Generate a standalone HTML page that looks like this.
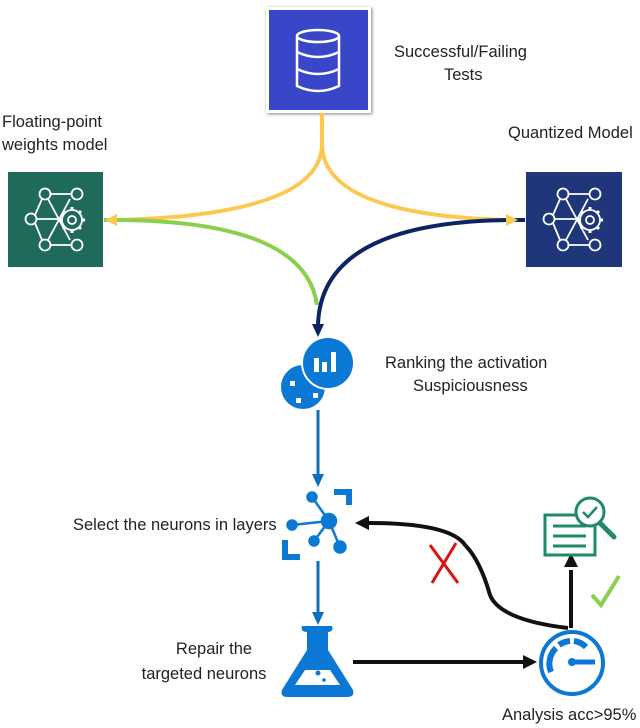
<!DOCTYPE html>
<html><head><style>body{margin:0;background:#fff}svg{display:block}text{font-family:"Liberation Sans",sans-serif;font-size:16.5px;fill:#222}</style></head><body>
<svg width="640" height="728" viewBox="0 0 640 728">
<defs>
<filter id="sh"><feDropShadow dx="1" dy="1" stdDeviation="1.5" flood-opacity="0.5"/></filter>
</defs>
<rect x="266" y="7" width="105" height="106" fill="#fff" filter="url(#sh)"/>
<rect x="269" y="10" width="99" height="100" fill="#3a46c8"/>
<g fill="none" stroke="#fff" stroke-width="2.5">
<ellipse cx="318" cy="36" rx="21" ry="6"/>
<path d="M297 36 V86 Q318 96 339 86 V36"/>
<path d="M297 52 Q318 62 339 52 M297 69 Q318 79 339 69"/>
</g>
<text x="394" y="57">Successful/Failing</text>
<text x="444" y="80">Tests</text>
<rect x="8" y="172" width="95" height="95" fill="#1f6a5b"/>
<rect x="526" y="172" width="96" height="95" fill="#1f377a"/>
<g id="nn" fill="none" stroke="#fff" stroke-width="1.8">
<circle cx="45" cy="194" r="5.5"/><circle cx="77" cy="194" r="5.5"/><circle cx="31" cy="219" r="5.5"/><circle cx="45" cy="245" r="5.5"/><circle cx="77" cy="245" r="5.5"/>
<path d="M51 194H71M51 245H71M37 219H58M35 215L42 199M35 223L42 240M48 199L70 240M48 240L70 199"/>
<circle cx="72" cy="220" r="10"/><circle cx="72" cy="220" r="4"/>
<path d="M72 207V210M72 230V233M59 220H62M82 220H85M63 211L65 213M81 211L79 213M63 229L65 227M81 229L79 227" stroke-width="3"/>
</g>
<use href="#nn" x="518"/>
<text x="2" y="127">Floating-point</text>
<text x="2" y="150">weights model</text>
<text x="508" y="138">Quantized Model</text>
<g fill="none" stroke-width="4">
<path d="M322 113 V145 Q320 215 115 220" stroke="#fdc84f"/>
<path d="M322 113 V145 Q324 215 508 220" stroke="#fdc84f"/>
<path d="M104 220 Q305 218 317 305" stroke="#8bcf4f"/>
<path d="M525 220 Q321 218 318 325" stroke="#0d2464"/>
</g>
<path d="M105 220 L117 214 L117 226Z" fill="#fdc84f"/>
<path d="M518 220 L506 214 L506 226Z" fill="#fdc84f"/>
<path d="M318 337 L312 324 L324 324Z" fill="#0d2464"/>
<circle cx="303" cy="387" r="22" fill="#0a78d4"/>
<circle cx="328" cy="363" r="27" fill="#fff"/>
<circle cx="328" cy="363" r="25" fill="#0a78d4"/>
<rect x="314" y="358" width="5" height="14" fill="#fff"/><rect x="322" y="362" width="5" height="10" fill="#fff"/><rect x="331" y="352" width="5" height="20" fill="#fff"/>
<rect x="290" y="381" width="5" height="5" fill="#fff"/><rect x="296" y="398" width="5" height="5" fill="#fff"/><rect x="313" y="393" width="5" height="5" fill="#fff"/>
<text x="385" y="368">Ranking the activation</text>
<text x="413" y="391">Suspiciousness</text>
<g stroke="#0a6fc2" stroke-width="3"><path d="M318 410V475M318 561V612"/></g>
<path d="M318 487L312 474H324Z M318 625L312 612H324Z" fill="#0a6fc2"/>
<g fill="#0a78d4" stroke="#0a78d4" stroke-width="2.5">
<path d="M329 521L312 497M329 521L292 525M329 521L314 541M329 521L340 547" fill="none"/>
<circle cx="329" cy="521" r="7"/><circle cx="312" cy="497" r="4.5"/><circle cx="292" cy="525" r="4.5"/><circle cx="314" cy="541" r="4.5"/><circle cx="340" cy="547" r="5.5"/>
</g>
<path d="M334 489H352V505H346V495H334Z M282 540H288V554H300V560H282Z" fill="#0a78d4"/>
<text x="73" y="530">Select the neurons in layers</text>
<path d="M302 626H332Q334 632 328 632V650L353 690Q355 697 347 697H287Q280 697 282 690L307 650V632Q300 632 302 626Z" fill="#0a78d4"/>
<path d="M295 685L305 670H330L340 685Z" fill="#fff"/>
<circle cx="318" cy="673" r="2.5" fill="#0a78d4"/><circle cx="324" cy="680" r="1.8" fill="#0a78d4"/>
<text x="214" y="654" text-anchor="middle">Repair the</text>
<text x="204" y="679" text-anchor="middle">targeted neurons</text>
<g stroke="#111" stroke-width="4" fill="none">
<path d="M353 662H525"/>
<path d="M571 628V570"/>
<path d="M568 628Q500 620 490 595Q480 560 465 545Q450 523 368 523"/>
</g>
<path d="M537 662L523 655V669Z M571 553L564 567H578Z M355 523L369 516V530Z" fill="#111"/>
<circle cx="572" cy="663" r="31" fill="#fff" stroke="#0a78d4" stroke-width="4"/>
<g fill="none" stroke="#0a78d4" stroke-width="6">
<path d="M551 672A22 22 0 0 1 556 648M559 645A22 22 0 0 1 570 641M574 641A22 22 0 0 1 586 647"/>
</g>
<path d="M572 662H595" stroke="#0a78d4" stroke-width="5"/><circle cx="572" cy="662" r="4" fill="#0a78d4"/>
<text x="502" y="720">Analysis acc&gt;95%</text>
<g fill="none" stroke="#1f8a6b" stroke-width="3">
<rect x="545" y="515" width="50" height="40" fill="#fff"/>
<path d="M553 526H586M553 536H586M553 546H586"/>
<circle cx="590" cy="512" r="14" fill="#fff"/>
<path d="M583 512L588 517L597 507" stroke-width="2.5"/>
<path d="M600 523L614 537" stroke-width="5" stroke-linecap="round"/>
</g>
<path d="M430 545L458 583M456 543L432 583" stroke="#e01010" stroke-width="3"/>
<path d="M592 595L601 605L619 576" stroke="#8bcf4f" stroke-width="4" fill="none"/>
</svg>
</body></html>
